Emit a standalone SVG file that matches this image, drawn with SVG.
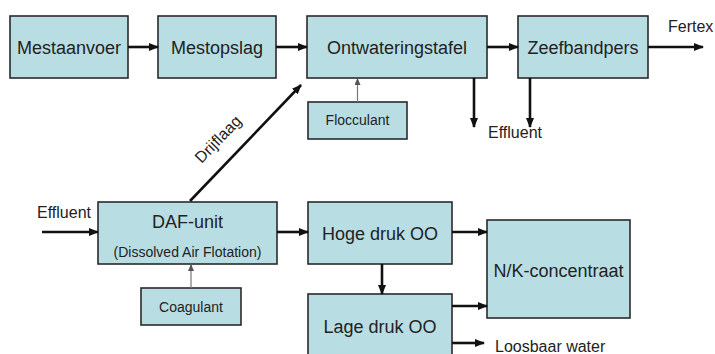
<svg xmlns="http://www.w3.org/2000/svg" width="715" height="354" viewBox="0 0 715 354">
<defs>
<marker id="ah" markerWidth="10" markerHeight="8" refX="9" refY="4" orient="auto" markerUnits="userSpaceOnUse">
<path d="M0,0 L10,4 L0,8 Z" fill="#111"/>
</marker>
<marker id="ahs" markerWidth="7" markerHeight="6" refX="6" refY="3" orient="auto" markerUnits="userSpaceOnUse">
<path d="M0,0 L7,3 L0,6 Z" fill="#555"/>
</marker>
<style>
.box{fill:#B8DEE4;stroke:#2a2a2a;stroke-width:1.6}
.t{font-family:"Liberation Sans",Arial,sans-serif;fill:#222;text-anchor:middle}
.big{font-size:18px}
.sm{font-size:14px}
.lbl{font-family:"Liberation Sans",Arial,sans-serif;fill:#222;font-size:16px}
.c{fill:none;stroke:#111;stroke-width:2.6}
.thin{fill:none;stroke:#777;stroke-width:1.2}
</style>
</defs>
<rect width="715" height="354" fill="#fff"/>
<g id="mestaanvoer"><rect class="box" x="10" y="16" width="118" height="62"/><text class="t big" x="69" y="54">Mestaanvoer</text></g>
<g id="mestopslag"><rect class="box" x="158" y="16" width="118" height="62"/><text class="t big" x="217" y="54">Mestopslag</text></g>
<g id="ontwateringstafel"><rect class="box" x="307" y="16" width="180" height="62"/><text class="t big" x="397" y="54">Ontwateringstafel</text></g>
<g id="zeefbandpers"><rect class="box" x="518" y="16" width="130" height="62"/><text class="t big" x="583" y="54">Zeefbandpers</text></g>
<g id="flocculant"><rect class="box" x="308" y="102" width="99" height="37"/><text class="t sm" x="357.5" y="125">Flocculant</text></g>
<g id="daf"><rect class="box" x="98" y="202" width="179" height="62"/><text class="t big" x="187.5" y="228">DAF-unit</text><text class="t sm" x="187.5" y="257">(Dissolved Air Flotation)</text></g>
<g id="coagulant"><rect class="box" x="141" y="288" width="100" height="37"/><text class="t sm" x="191" y="312">Coagulant</text></g>
<g id="hoge"><rect class="box" x="308" y="202" width="144" height="62"/><text class="t big" x="380" y="240">Hoge druk OO</text></g>
<g id="lage"><rect class="box" x="308" y="294" width="144" height="70"/><text class="t big" x="380" y="333">Lage druk OO</text></g>
<g id="nk"><rect class="box" x="487" y="220" width="143" height="98"/><text class="t big" x="558.5" y="277">N/K-concentraat</text></g>
<g id="connectors">
<line class="c" x1="128" y1="47" x2="158" y2="47" marker-end="url(#ah)"/>
<line class="c" x1="276" y1="47" x2="307" y2="47" marker-end="url(#ah)"/>
<line class="c" x1="487" y1="47" x2="518" y2="47" marker-end="url(#ah)"/>
<line class="c" x1="648" y1="47" x2="703" y2="47" marker-end="url(#ah)"/>
<line class="c" x1="474" y1="78" x2="474" y2="127" marker-end="url(#ah)"/>
<line class="c" x1="530" y1="78" x2="530" y2="127" marker-end="url(#ah)"/>
<line class="thin" x1="357.5" y1="102" x2="357.5" y2="79" marker-end="url(#ahs)"/>
<line class="c" x1="190" y1="201" x2="301" y2="85" marker-end="url(#ah)"/>
<line class="c" x1="42" y1="232" x2="98" y2="232" marker-end="url(#ah)"/>
<line class="thin" x1="191" y1="288" x2="191" y2="265" marker-end="url(#ahs)"/>
<line class="c" x1="277" y1="232" x2="308" y2="232" marker-end="url(#ah)"/>
<line class="c" x1="452" y1="232" x2="487" y2="232" marker-end="url(#ah)"/>
<line class="c" x1="382" y1="264" x2="382" y2="294" marker-end="url(#ah)"/>
<line class="c" x1="452" y1="306" x2="487" y2="306" marker-end="url(#ah)"/>
<line class="c" x1="452" y1="343" x2="484" y2="343" marker-end="url(#ah)"/>
</g>
<text class="lbl" x="668" y="32">Fertex</text>
<text class="lbl" x="488" y="138">Effluent</text>
<text class="lbl" x="37" y="218">Effluent</text>
<text class="lbl" x="495" y="352">Loosbaar water</text>
<text class="lbl" text-anchor="middle" transform="translate(222,143) rotate(-46)">Drijflaag</text>
</svg>
